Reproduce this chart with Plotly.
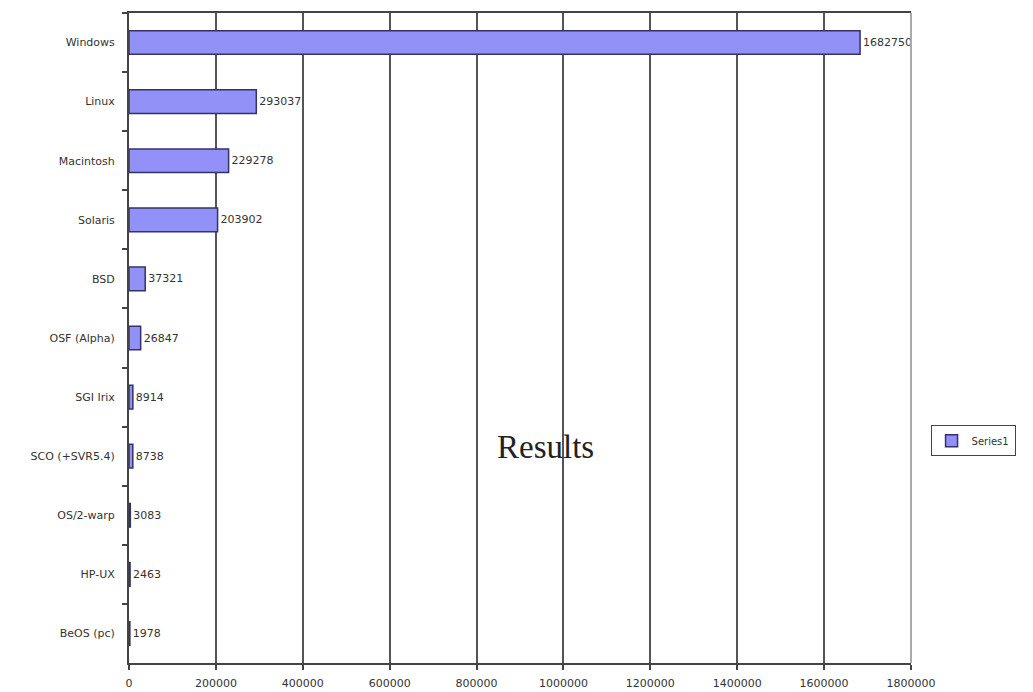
import plotly.graph_objects as go

categories = ["Windows", "Linux", "Macintosh", "Solaris", "BSD", "OSF (Alpha)",
              "SGI Irix", "SCO (+SVR5.4)", "OS/2-warp", "HP-UX", "BeOS (pc)"]
values = [1682750, 293037, 229278, 203902, 37321, 26847, 8914, 8738, 3083, 2463, 1978]
x_ticks = [0, 200000, 400000, 600000, 800000, 1000000, 1200000, 1400000, 1600000, 1800000]

font_main = "DejaVu Sans"
txt_col = "#333333"

fig = go.Figure()
fig.add_trace(go.Bar(
    x=values, y=categories, orientation="h", name="Series1",
    marker=dict(color="#9191f7", line=dict(color="#333366", width=1.5)),
    text=[str(v) for v in values], textposition="outside",
    textfont=dict(family=font_main, size=11, color=txt_col),
    cliponaxis=False, showlegend=True,
))

fig.update_layout(
    width=1033, height=692,
    margin=dict(l=129, r=122, t=13, b=29, autoexpand=False),
    paper_bgcolor="white", plot_bgcolor="white",
    bargap=0.6,
    font=dict(family=font_main, size=11, color=txt_col),
    showlegend=True,
    legend=dict(x=1.025, y=0.342, xanchor="left", yanchor="middle",
                bordercolor="#444444", borderwidth=1, bgcolor="white",
                font=dict(family=font_main, size=10, color=txt_col),
                itemwidth=30, tracegroupgap=0),
    annotations=[dict(text="Results", x=0.532, y=0.332, xref="paper", yref="paper",
                      xanchor="center", yanchor="middle",
                      showarrow=False, font=dict(family="Liberation Serif", size=33, color="#222222"))],
    shapes=[dict(type="line", xref="paper", yref="paper", x0=1, x1=1, y0=0, y1=1,
                 line=dict(color="#aaaaaa", width=2), layer="above")],
)

fig.update_xaxes(
    range=[0, 1800000], tickvals=x_ticks, ticktext=[str(t) for t in x_ticks],
    showgrid=True, gridcolor="#555555", gridwidth=2,
    showline=True, linecolor="#444444", linewidth=2, mirror=True,
    ticks="outside", ticklen=5, tickcolor="#444444", tickwidth=2,
    ticklabelstandoff=4, zeroline=False, automargin=False,
    tickfont=dict(family=font_main, size=11, color=txt_col),
)
fig.update_yaxes(
    categoryorder="array", categoryarray=categories, autorange="reversed",
    showgrid=False, showline=True, linecolor="#444444", linewidth=2,
    ticks="outside", tickson="boundaries", ticklen=5, tickcolor="#444444", tickwidth=2,
    ticklabelstandoff=10, automargin=False,
    tickfont=dict(family=font_main, size=11, color=txt_col),
)

fig.write_html("out.html")
